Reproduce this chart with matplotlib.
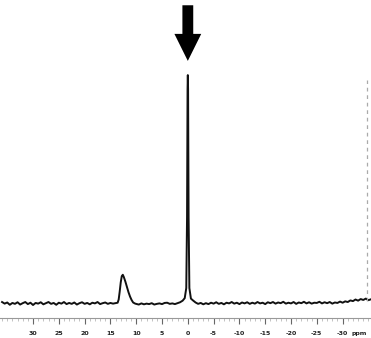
import matplotlib
matplotlib.use("Agg")
import matplotlib.pyplot as plt
from matplotlib.ticker import MultipleLocator

# spectrum: chemical shift (ppm) and intensity (main peak = 100)
left_ppm = [36, 35.5, 35, 34.5, 34, 33.5, 33, 32.5, 32, 31.5, 31, 30.5, 30, 29.5, 29,
            28.5, 28, 27.5, 27, 26.5, 26, 25.5, 25, 24.5, 24, 23.5, 23, 22.5, 22, 21.5,
            21, 20.5, 20, 19.5, 19, 18.5, 18, 17.5, 17, 16.5, 16, 15.5, 15, 14.5, 14]
left_int = [0.9, 0.2, 0.7, -0.3, 0.5, 0.1, 0.8, -0.2, 0.4, 0.9, 0.0, 0.6, -0.4, 0.5,
            0.2, 0.8, -0.1, 0.4, 0.9, 0.1, 0.5, -0.3, 0.6, 0.2, 0.9, 0.0, 0.5, 0.1,
            0.7, -0.2, 0.4, 0.8, 0.1, 0.5, -0.1, 0.6, 0.3, 0.9, 0.0, 0.4, 0.7, 0.1,
            0.5, 0.2, 0.4]

small_ppm = [13.6, 13.4, 13.2, 13.0, 12.8, 12.6, 12.4, 12.1, 11.8, 11.5, 11.2, 10.9,
             10.6, 10.2]
small_int = [0.6, 2.0, 5.5, 9.5, 12.2, 12.8, 11.8, 9.8, 7.5, 5.2, 3.3, 1.8, 0.7, 0.2]

mid_ppm = [9.5, 9, 8.5, 8, 7.5, 7, 6.5, 6, 5.5, 5, 4.5, 4, 3.5, 3, 2.5, 2, 1.5]
mid_int = [-0.2, 0.3, -0.1, 0.2, 0.0, 0.4, -0.2, 0.1, 0.3, 0.0, 0.5, 0.6, 0.1, 0.3,
           0.0, 0.4, 0.8]

main_ppm = [1.0, 0.6, 0.3, 0.15, 0.05, 0.0, -0.05, -0.15, -0.3, -0.6, -1.0, -1.5]
main_int = [1.5, 2.6, 7.0, 38.0, 94.0, 100.0, 94.0, 38.0, 7.0, 2.4, 1.6, 0.7]

right_ppm = [-2, -2.5, -3, -3.5, -4, -4.5, -5, -5.5, -6, -6.5, -7, -7.5, -8, -8.5, -9,
             -9.5, -10, -10.5, -11, -11.5, -12, -12.5, -13, -13.5, -14, -14.5, -15,
             -15.5, -16, -16.5, -17, -17.5, -18, -18.5, -19, -19.5, -20, -20.5, -21,
             -21.5, -22, -22.5, -23, -23.5, -24, -24.5, -25, -25.5, -26, -26.5, -27,
             -27.5, -28, -28.5, -29, -29.5, -30, -30.5, -31, -31.5, -32, -32.5, -33,
             -33.5, -34, -34.5, -35, -35.5]
right_int = [0.1, 0.5, -0.1, 0.4, 0.0, 0.6, 0.2, 0.8, 0.1, 0.5, -0.1, 0.6, 0.3, 0.9,
             0.2, 0.6, 0.0, 0.7, 0.3, 0.8, 0.1, 0.6, 0.2, 0.9, 0.3, 0.6, 0.0, 0.8,
             0.4, 0.9, 0.2, 0.7, 0.4, 1.0, 0.2, 0.6, 0.3, 0.9, 0.1, 0.7, 0.4, 1.0,
             0.3, 0.8, 0.2, 0.6, 0.5, 1.0, 0.3, 0.8, 0.4, 0.9, 0.2, 0.7, 0.5, 1.1,
             0.6, 1.2, 0.9, 1.6, 1.3, 2.0, 1.5, 2.2, 1.8, 2.4, 1.7, 2.1]

ppm = left_ppm + small_ppm + mid_ppm + main_ppm + right_ppm
intensity = left_int + small_int + mid_int + main_int + right_int

major_ticks = [30, 25, 20, 15, 10, 5, 0, -5, -10, -15, -20, -25, -30]
tick_labels = ["30", "25", "20", "15", "10", "5", "0", "-5", "-10", "-15", "-20",
               "-25", "-30"]

fig = plt.figure(figsize=(3.71, 3.38), dpi=100)
ax = fig.add_axes([0.0, 0.059, 1.0, 0.941])

ax.plot(ppm, intensity, color="#111111", lw=1.4)

# dashed marker line at the right edge
ax.plot([-34.7, -34.7], [1.5, 98], color="#aaaaaa", lw=0.9, ls=(0, (3, 3)))

# arrow pointing at the main peak
ax.arrow(0, 130.5, 0, -12.5, width=2.1, head_width=5.2, head_length=11.8,
         length_includes_head=False, color="black", lw=0)

ax.set_xlim(36.4, -35.5)
ax.set_ylim(-6.1, 132.8)

ax.set_xticks(major_ticks)
ax.set_xticklabels(tick_labels, fontsize=4.5, fontweight="bold", color="#222222")
ax.xaxis.set_minor_locator(MultipleLocator(1))
ax.tick_params(axis="x", which="major", length=4, width=0.8, color="#666666", pad=5)
ax.tick_params(axis="x", which="minor", length=2, width=0.5, color="#aaaaaa")
ax.set_yticks([])
for side in ["top", "right", "left"]:
    ax.spines[side].set_visible(False)
ax.spines["bottom"].set_color("#999999")
ax.spines["bottom"].set_linewidth(0.8)

ax.text(-33.2, -0.04, "ppm", transform=ax.get_xaxis_transform(), fontsize=4.5,
        fontweight="bold", color="#222222", ha="center", va="top")

fig.savefig("out.png", dpi=100)
